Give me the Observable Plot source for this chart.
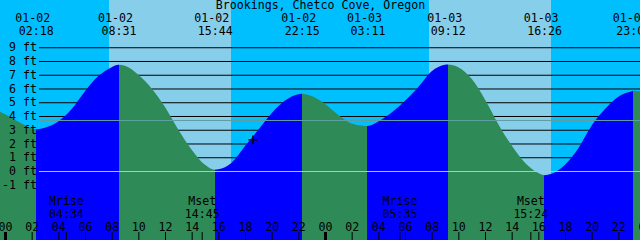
<!DOCTYPE html>
<html><head><meta charset="utf-8">
<script src="https://cdn.jsdelivr.net/npm/d3@7"></script>
<script src="https://cdn.jsdelivr.net/npm/@observablehq/plot@0.6"></script>
<style>html,body{margin:0;padding:0;overflow:hidden;background:#00BFFF}</style>
</head><body><div id="chart"></div>
<script>
// ---- data ----
const title = "Brookings, Chetco Cove, Oregon";
const baseDay = 2; // hour 0 = 01-02 00:00
const extremeDates = ["01-02", "01-02", "01-02", "01-02", "01-03", "01-03", "01-03", "01-03"];
const extremeTimes = ["02:18", "08:31", "15:44", "22:15", "03:11", "09:12", "16:26", "23:07"];
const extremeHeights = [3.04, 7.72, 0.09, 5.62, 3.27, 7.75, -0.30, 5.83];

const sampleHours = [-0.375, 0, 1, 2, 3, 4, 5, 6, 7, 8, 9, 10, 11, 12, 13, 14, 15, 16, 17, 18, 19, 20, 21, 22, 23,
  24, 25, 26, 27, 28, 29, 30, 31, 32, 33, 34, 35, 36, 37, 38, 39, 40, 41, 42, 43, 44, 45, 46, 47, 47.625];
const sampleHeights = [4.3, 4.13, 3.58, 3.11, 3.15, 3.6, 4.5, 5.8, 6.9, 7.55, 7.65, 7.0, 6.0, 4.65, 3.0, 1.55, 0.45, 0.12, 0.6, 1.81, 3.0, 4.2, 5.12, 5.58, 5.45,
  4.88, 4.08, 3.45, 3.28, 3.6, 4.25, 5.1, 6.1, 7.25, 7.73, 7.55, 6.7, 5.2, 3.4, 1.85, 0.6, -0.15, -0.2, 0.45, 1.65, 3.3, 4.5, 5.4, 5.8, 5.8];

const sunDates = ["01-02", "01-03"];
const sunrises = ["07:48", "07:48"];
const sunsets = ["16:57", "16:57"];

const moonDates = ["01-02", "01-02", "01-03", "01-03"];
const moonEvents = ["Mrise", "Mset", "Mrise", "Mset"];
const moonTimes = ["04:34", "14:45", "05:35", "15:24"];

const heightTicks = [-1, 0, 1, 2, 3, 4, 5, 6, 7, 8, 9];
const heightLabels = ["-1 ft", "0 ft", "1 ft", "2 ft", "3 ft", "4 ft", "5 ft", "6 ft", "7 ft", "8 ft", "9 ft"];
const hourTicks = [0, 2, 4, 6, 8, 10, 12, 14, 16, 18, 20, 22, 24, 26, 28, 30, 32, 34, 36, 38, 40, 42, 44, 46, 48];
const hourLabels = ["00", "02", "04", "06", "08", "10", "12", "14", "16", "18", "20", "22", "00", "02", "04", "06", "08", "10", "12", "14", "16", "18", "20", "22", "00"];
const midnights = [0, 24, 48];
const meanSeaLevel = 3.71;
const datumLevel = 0;
const nowDate = "01-02", nowTime = "18:33", nowHeight = 2.3;

// ---- helpers ----
const toHours = (date, time) => {
  const day = +date.slice(3);
  const [hh, mm] = time.split(":").map(Number);
  return (day - baseDay) * 24 + hh + mm / 60;
};
const xDomain = [-0.375, 47.625];
const yDomain = [-5.018, 12.436];

const extremes = extremeDates.map((d, i) => ({
  date: d, time: extremeTimes[i], t: toHours(d, extremeTimes[i]), h: extremeHeights[i],
  label: d + "\u00A0\n" + extremeTimes[i]
}));
const isHigh = i => i > 0 ? extremeHeights[i] > extremeHeights[i - 1] : extremeHeights[i] > extremeHeights[i + 1];

const tide = sampleHours.map((t, i) => ({t, h: sampleHeights[i]}))
  .concat(extremes.map(e => ({t: e.t, h: e.h})))
  .sort((a, b) => a.t - b.t);

const days = sunDates.map((d, i) => ({t1: toHours(d, sunrises[i]), t2: toHours(d, sunsets[i])}));
const moons = moonDates.map((d, i) => ({name: moonEvents[i], time: moonTimes[i], t: toHours(d, moonTimes[i]), label: moonEvents[i] + "\n" + moonTimes[i]}));
const hours = hourTicks.map((t, i) => ({t, label: hourLabels[i]}));

const FLOOD = "#0000FF", EBB = "#2E8B57", DAY = "#87CEEB", NIGHT = "#00BFFF";

// gradient colouring the water: flood (rising) blue, ebb (falling) green
const waterGradient = () => {
  const defs = d3.create("svg:defs");
  const g = defs.append("linearGradient").attr("id", "water").attr("x1", 0).attr("x2", 1).attr("y1", 0).attr("y2", 0);
  const span = xDomain[1] - xDomain[0];
  const bounds = [xDomain[0], ...extremes.map(e => e.t), xDomain[1]];
  for (let k = 0; k < bounds.length - 1; k++) {
    const color = k < extremes.length ? (isHigh(k) ? FLOOD : EBB) : (isHigh(extremes.length - 1) ? EBB : FLOOD);
    g.append("stop").attr("offset", (bounds[k] - xDomain[0]) / span).attr("stop-color", color);
    g.append("stop").attr("offset", (bounds[k + 1] - xDomain[0]) / span).attr("stop-color", color);
  }
  return defs.node();
};

const font = "DejaVu Sans Mono";
const fs = 11.6;

const chart = Plot.plot({
  width: 640, height: 240,
  marginTop: 0, marginRight: 0, marginBottom: 0, marginLeft: 0,
  x: {domain: xDomain, axis: null},
  y: {domain: yDomain, axis: null},
  style: {fontFamily: font, fontSize: fs + "px", color: "black", background: NIGHT},
  marks: [
    Plot.rect([{t1: xDomain[0], t2: xDomain[1]}], {x1: "t1", x2: "t2", y1: yDomain[0], y2: yDomain[1], fill: NIGHT}),
    Plot.rect(days, {x1: "t1", x2: "t2", y1: yDomain[0], y2: yDomain[1], fill: DAY}),
    Plot.ruleY(heightTicks.filter(v => v !== datumLevel), {y: d => d, stroke: "black", insetLeft: 39}),
    waterGradient,
    Plot.areaY(tide, {x: "t", y1: yDomain[0], y2: "h", curve: "monotone-x", fill: "url(#water)"}),
    Plot.ruleY([meanSeaLevel], {y: d => d, stroke: "#5F9EA0", insetLeft: 39}),
    Plot.ruleY([datumLevel], {y: d => d, stroke: "#8AD3EA", insetLeft: 39}),
    // bottom ticks
    Plot.ruleX(hourTicks.filter(t => !midnights.includes(t)), {x: d => d, stroke: "black", insetTop: 232}),
    Plot.ruleX(midnights, {x: d => d, stroke: "black", strokeWidth: 3, insetTop: 232}),
    Plot.ruleX(moons, {x: "t", stroke: "black", insetTop: 232}),
    // labels
    Plot.text(hours, {x: "t", text: "label", frameAnchor: "bottom", lineAnchor: "bottom", dy: -9.5, fontFamily: font, fontSize: fs}),
    Plot.text(moons, {x: "t", text: "label", frameAnchor: "bottom", lineAnchor: "bottom", lineHeight: 1.08, dy: -22.5, fontFamily: font, fontSize: fs}),
    Plot.text(heightTicks, {y: d => d, text: (d, i) => heightLabels[i], frameAnchor: "left", textAnchor: "end", lineAnchor: "middle", dx: 36.5, fontFamily: font, fontSize: fs}),
    Plot.text([title], {text: d => d, frameAnchor: "top", lineAnchor: "bottom", dy: 8.6, fontFamily: font, fontSize: fs}),
    Plot.text(extremes, {x: "t", text: "label", frameAnchor: "top", lineAnchor: "bottom", lineHeight: 1.08, dy: 34.3, dx: 0, fontFamily: font, fontSize: fs}),
    Plot.dot([{t: toHours(nowDate, nowTime), h: nowHeight}], {x: "t", y: "h", symbol: "plus", r: 3, stroke: "black", strokeWidth: 1.3})
  ]
});
document.getElementById("chart").appendChild(chart);
</script>
</body></html>
